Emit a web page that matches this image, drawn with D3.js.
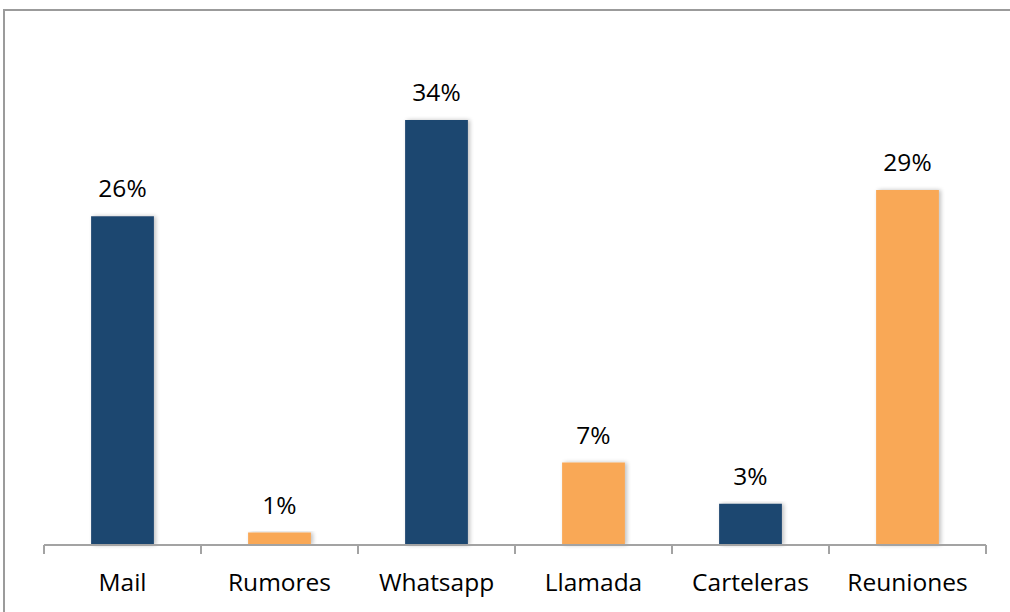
<!DOCTYPE html>
<html><head><meta charset="utf-8">
<script src="https://cdn.jsdelivr.net/npm/d3@7"></script>
<style>html,body{margin:0;padding:0;background:#fff;}</style>
</head><body>
<svg id="c" width="1010" height="612"></svg>
<script>
const categories = ["Mail","Rumores","Whatsapp","Llamada","Carteleras","Reuniones"];
const values = [26.3, 1.0, 34.0, 6.6, 3.3, 28.4];
const labels = ["26%","1%","34%","7%","3%","29%"];
const barColors = ["#1F4770","#F9A856","#1F4770","#F9A856","#1F4770","#F9A856"];

const svg = d3.select("#c");
const font = "'Open Sans', sans-serif";

const defs = svg.append("defs");
const f = defs.append("filter").attr("id","sh").attr("x","-20%").attr("y","-5%").attr("width","140%").attr("height","110%");
f.append("feGaussianBlur").attr("in","SourceAlpha").attr("stdDeviation",2);
f.append("feOffset").attr("dx",2).attr("dy",0).attr("result","b");
f.append("feComponentTransfer").append("feFuncA").attr("type","linear").attr("slope",0.25);
const m = f.append("feMerge"); m.append("feMergeNode"); m.append("feMergeNode").attr("in","SourceGraphic");

// frame
svg.append("path").attr("d","M4,612 V10 H1010").attr("fill","none").attr("stroke","#9B9B9B").attr("stroke-width",2);

const x = d3.scaleBand().domain(categories).range([44,986]).paddingInner(0.6).paddingOuter(0.3);
const y = d3.scaleLinear().domain([0,40]).range([545,45]);
const step = x.step();

svg.selectAll("rect.bar").data(categories).join("rect")
  .attr("class","bar")
  .attr("x", d=>x(d)).attr("width", x.bandwidth())
  .attr("y", (d,i)=>y(values[i])).attr("height",(d,i)=>y(0)-y(values[i]))
  .attr("fill",(d,i)=>barColors[i]).attr("filter","url(#sh)");

svg.selectAll("text.val").data(categories).join("text")
  .attr("class","val")
  .attr("x", d=>x(d)+x.bandwidth()/2).attr("y",(d,i)=>y(values[i])-19)
  .attr("text-anchor","middle").attr("font-family",font).attr("font-size",24.5).attr("fill","#000")
  .text((d,i)=>labels[i]);

// axis
const ax = svg.append("g").attr("transform","translate(0,545)")
  .call(d3.axisBottom(x).tickSize(0).tickPadding(29));
ax.select(".domain").remove();
ax.selectAll("text").attr("font-family",font).attr("font-size",24.5).attr("fill","#000");
svg.append("line").attr("x1",44).attr("x2",986).attr("y1",545).attr("y2",545).attr("stroke","#A3A3A3").attr("stroke-width",2);
const bounds = categories.map(d=>x(d)-(step-x.bandwidth())/2).concat([986]);
svg.selectAll("line.tk").data(bounds).join("line").attr("class","tk")
  .attr("x1",d=>d).attr("x2",d=>d).attr("y1",545).attr("y2",554)
  .attr("stroke","#A3A3A3").attr("stroke-width",2);
</script>
</body></html>
